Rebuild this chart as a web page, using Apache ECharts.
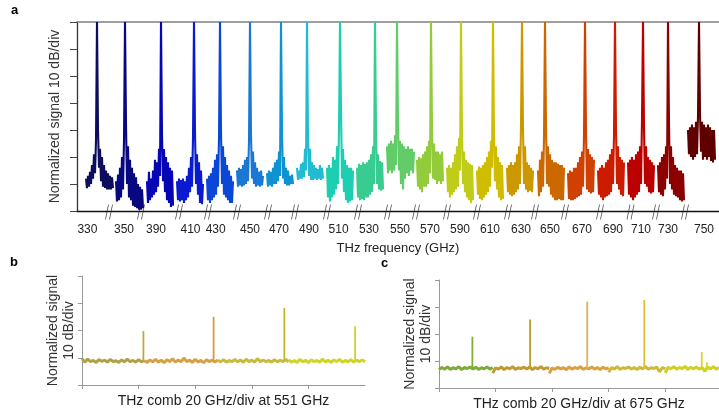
<!DOCTYPE html>
<html>
<head>
<meta charset="utf-8">
<script src="https://cdn.jsdelivr.net/npm/echarts@6/dist/echarts.min.js"></script>
<style>
  html, body { margin: 0; padding: 0; background: #fff; }
  #chart { width: 719px; height: 416px; }
</style>
</head>
<body>
<div id="chart"></div>
<script>
// ---- panel a: 21 THz lines, each drawn in its own broken-axis window ----
var freqLabels = ['330', '350', '390', '410', '430', '450', '470', '490', '510', '530', '550',
                  '570', '590', '610', '630', '650', '670', '690', '710', '730', '750'];
// plot position of each tick label and of each "//" break on the broken axis
var labelPos = [10.4, 47, 79, 113.5, 138.7, 173, 202, 232, 261.6, 292, 323,
                353, 383, 413, 444, 473, 505, 536, 564, 591, 627];
var breakPos = [32, 64, 102, 131, 160, 191, 218, 250, 281, 311, 339, 370, 400, 431, 458, 488, 523, 553.5, 579, 608];
// first plot position of each window (samples are 1 unit apart)
var peakStart = [9, 39, 70, 100, 130, 160, 190, 220, 250, 280, 310, 340, 370, 400, 430, 461, 491, 521, 551, 581, 611];
var peakColors = ['#0d0d5e', '#07077f', '#0505b4', '#0a1ad0', '#0c46d6', '#1a78d4', '#0f92d2', '#22bcd2',
                  '#1ccfb2', '#38cc90', '#62cc68', '#92cc3a', '#c0cc1a', '#d0bc00', '#cc9800', '#cc6800',
                  '#d04000', '#cc1c00', '#bb0000', '#8c0000', '#5e0000'];

// signal in divisions (10 dB/div)
var t330 = [1.2, 0.85, 1.3, 0.9, 1.45, 1.0, 1.7, 1.2, 2.1, 1.4, 2.6, 7, 3.0, 1.6, 2.3, 1.1, 2.0, 0.9, 1.7, 0.85, 1.5, 0.8, 1.4, 0.8, 1.3, 0.8, 1.25, 0.85];
var t350 = [1.1, 0.35, 1.35, 0.4, 1.6, 0.5, 2.0, 0.8, 2.6, 7, 3.2, 1.0, 2.4, 0.5, 1.9, 0.4, 1.6, 0.2, 1.4, 0.15, 1.25, 0.1, 1.0, 0.05, 0.9, 0.05, 0.8, 0.1];
var t390 = [1.1, 0.3, 1.45, 0.4, 1.2, 0.5, 1.5, 0.6, 1.9, 0.7, 1.8, 0.9, 2.3, 1.3, 7, 2.8, 1.1, 2.3, 0.7, 2.0, 0.4, 1.8, 0.3, 1.6, 0.15, 1.5, 0.2];
var t410 = [1.1, 0.4, 1.2, 0.35, 1.15, 0.4, 1.2, 0.3, 1.1, 0.4, 1.3, 0.5, 1.6, 0.7, 2.0, 0.9, 2.7, 7, 2.9, 1.0, 2.1, 0.6, 1.8, 0.3, 1.5, 0.25, 1.0];
var t430 = [1.2, 0.4, 1.3, 0.3, 1.4, 0.4, 1.6, 0.5, 1.9, 0.6, 2.1, 0.9, 2.7, 7, 2.9, 1.0, 2.4, 0.6, 2.0, 0.5, 1.7, 0.4, 1.5, 0.3, 1.3, 0.3, 1.1];
var t450 = [1.5, 0.9, 1.6, 0.95, 1.55, 0.9, 1.7, 0.95, 1.9, 1.0, 2.0, 1.1, 2.6, 7, 2.8, 1.2, 2.2, 1.0, 1.8, 0.9, 1.6, 0.95, 1.45, 0.9, 1.5, 0.95, 1.3];
var t470 = [1.4, 0.9, 1.5, 0.95, 1.45, 0.9, 1.6, 1.0, 1.8, 1.0, 1.9, 1.1, 2.2, 1.3, 7, 2.9, 1.2, 2.0, 1.0, 1.6, 0.95, 1.5, 0.95, 1.3, 1.0, 1.35, 1.0];
var t490 = [1.6, 1.15, 1.5, 1.2, 1.75, 1.2, 1.8, 1.25, 2.3, 1.5, 7, 2.8, 1.3, 2.3, 1.15, 1.8, 1.15, 1.7, 1.2, 1.6, 1.15, 1.55, 1.2, 1.7, 1.15, 1.6, 1.2];
var t510 = [1.6, 0.5, 1.7, 0.35, 1.6, 0.5, 2.0, 0.6, 1.9, 0.8, 2.4, 1.0, 3.0, 7, 3.8, 1.2, 2.3, 0.7, 1.9, 0.4, 1.7, 0.3, 1.6, 0.35, 1.6, 0.4, 1.5];
var t530 = [1.6, 0.5, 1.75, 0.4, 1.7, 0.45, 1.8, 0.4, 1.75, 0.5, 1.8, 0.5, 1.9, 0.6, 2.1, 0.7, 2.4, 1.0, 7, 3.0, 1.0, 2.1, 0.8, 1.85, 0.75, 1.8, 0.8];
var t550 = [2.4, 1.4, 2.5, 1.5, 2.6, 1.4, 2.5, 1.5, 2.8, 1.7, 7, 3.3, 1.5, 2.6, 1.0, 2.5, 0.8, 2.4, 1.2, 2.3, 1.4, 2.4, 1.3, 2.3, 1.5, 2.3, 1.4, 2.2];
var t570 = [1.9, 0.9, 2.0, 0.8, 1.95, 0.7, 2.1, 0.9, 2.2, 0.9, 2.4, 1.0, 2.6, 1.4, 7, 3.1, 1.2, 2.5, 1.15, 2.2, 1.0, 2.2, 1.1, 2.1, 1.0, 2.2, 1.1];
var t590 = [1.6, 0.7, 1.7, 0.5, 1.6, 0.6, 1.8, 0.7, 2.1, 0.8, 2.4, 0.9, 2.7, 1.5, 7, 2.9, 1.0, 2.2, 0.7, 1.9, 0.5, 1.8, 0.4, 1.75, 0.3, 1.7, 0.4];
var t610 = [1.5, 0.6, 1.65, 0.45, 1.6, 0.4, 1.7, 0.5, 1.8, 0.6, 2.0, 0.7, 2.2, 0.9, 2.6, 1.6, 7, 2.8, 1.1, 2.4, 0.8, 2.0, 0.5, 1.8, 0.4, 1.7, 0.45];
var t630 = [1.6, 0.7, 1.7, 0.6, 1.8, 0.55, 1.7, 0.6, 1.8, 0.7, 2.1, 0.8, 2.4, 1.0, 3.2, 7, 3.0, 1.0, 2.4, 0.8, 1.8, 0.7, 1.7, 0.75, 1.6, 0.7, 1.5];
var t650 = [1.5, 0.55, 1.9, 0.7, 2.2, 0.9, 2.7, 7, 3.1, 1.0, 2.4, 0.9, 2.1, 0.6, 1.9, 0.5, 1.8, 0.4, 1.8, 0.4, 1.75, 0.45, 1.7, 0.4, 1.7, 0.4, 1.6];
var t670 = [1.4, 0.45, 1.5, 0.4, 1.45, 0.4, 1.6, 0.45, 1.6, 0.5, 1.8, 0.55, 2.0, 0.6, 2.2, 0.9, 2.8, 7, 2.9, 0.8, 2.3, 0.7, 2.1, 0.65, 2.0, 0.7, 1.9];
var t690 = [1.5, 0.6, 1.6, 0.5, 1.7, 0.4, 1.6, 0.5, 1.8, 0.55, 1.9, 0.6, 2.1, 0.7, 2.3, 1.0, 2.8, 7, 3.0, 1.0, 2.4, 0.8, 2.0, 0.6, 1.9, 0.55, 1.8];
var t710 = [1.8, 0.6, 1.9, 0.5, 2.0, 0.4, 1.9, 0.5, 2.1, 0.6, 2.2, 0.7, 2.4, 1.0, 3.4, 7, 3.1, 1.0, 2.4, 0.9, 2.0, 0.7, 1.9, 0.65, 1.8, 0.7, 1.7];
var t730 = [1.7, 0.7, 1.8, 0.6, 2.0, 0.55, 2.1, 0.8, 2.4, 1.2, 7, 3.2, 1.0, 2.4, 0.8, 2.0, 0.6, 1.7, 0.55, 1.6, 0.5, 1.5, 0.4, 1.5, 0.35, 1.4, 0.4];
var t750 = [3.0, 2.1, 3.1, 2.0, 3.2, 1.9, 3.1, 2.0, 3.3, 2.1, 3.5, 7, 3.6, 2.2, 3.3, 1.9, 3.2, 2.0, 3.1, 1.9, 3.2, 2.0, 3.1, 1.85, 3.0, 1.8, 3.0, 1.9];
var traces = [t330, t350, t390, t410, t430, t450, t470, t490, t510, t530, t550,
              t570, t590, t610, t630, t650, t670, t690, t710, t730, t750];

// ---- panel b: comb at 551 GHz (x in GHz offset, 1 GHz per sample) ----
var bStarts = [0, 22, 48, 73];
var bColors = ['#b0a244', '#d8a046', '#c8ba3c', '#d2d228'];
var bNoise1 = [0.97, 0.84, 0.95, 0.86, 0.90, 0.83, 0.93, 0.87, 0.91, 0.84, 0.94, 0.86, 0.89, 0.83, 0.92, 0.85, 0.95, 0.86, 0.90, 0.84, 0.93, 0.85, 0.90];
var bNoise2 = [0.90, 0.83, 0.92, 0.85, 0.94, 0.84, 0.91, 0.82, 0.93, 0.86, 0.96, 0.84, 0.92, 0.85, 0.99, 0.86, 0.91, 0.83, 0.94, 0.85, 0.90, 0.82, 0.93, 0.86, 0.91, 0.84, 0.92];
var bNoise3 = [0.91, 0.85, 0.93, 0.84, 0.90, 0.86, 0.94, 0.85, 0.92, 0.83, 0.95, 0.86, 0.91, 0.84, 0.97, 0.85, 0.92, 0.86, 0.90, 0.84, 0.93, 0.85, 0.91, 0.86, 0.94, 0.85];
var bNoise4 = [0.92, 0.84, 0.90, 0.83, 0.94, 0.85, 0.91, 0.82, 0.93, 0.86, 0.90, 0.84, 0.95, 0.85, 0.91, 0.83, 0.92, 0.86, 0.94, 0.84, 0.90, 0.85, 0.93, 0.84, 0.91, 0.86, 0.92, 0.85];
var bNoise = [bNoise1, bNoise2, bNoise3, bNoise4];
var bSpikePos = [21.7, 46.5, 71.5, 96.5];
var bSpikeTop = [1.98, 2.5, 2.83, 2.16];
var bSpikeColors = ['#c4a446', '#d89a40', '#c8b42c', '#d2d02a'];

// ---- panel c: comb at 675 GHz ----
var cStarts = [0, 19, 39, 60, 80];
var cColors = ['#7fa83a', '#c09a30', '#d9a040', '#cfb838', '#d0d020'];
var cNoise1 = [0.68, 0.76, 0.70, 0.78, 0.69, 0.75, 0.71, 0.79, 0.68, 0.76, 0.72, 0.78, 0.70, 0.77, 0.69, 0.75, 0.71, 0.78, 0.70, 0.76];
var cNoise2 = [0.55, 0.75, 0.70, 0.78, 0.68, 0.76, 0.71, 0.79, 0.69, 0.75, 0.72, 0.77, 0.70, 0.78, 0.68, 0.76, 0.71, 0.79, 0.70, 0.75, 0.72];
var cNoise3 = [0.54, 0.74, 0.69, 0.77, 0.71, 0.75, 0.68, 0.78, 0.70, 0.76, 0.72, 0.79, 0.69, 0.75, 0.71, 0.78, 0.70, 0.76, 0.68, 0.77, 0.71, 0.75];
var cNoise4 = [0.58, 0.76, 0.70, 0.79, 0.69, 0.75, 0.72, 0.78, 0.70, 0.76, 0.68, 0.77, 0.71, 0.79, 0.70, 0.75, 0.72, 0.78, 0.60, 0.76, 0.71];
var cNoise5 = [0.56, 0.77, 0.71, 0.79, 0.70, 0.76, 0.72, 0.80, 0.69, 0.77, 0.71, 0.78, 0.70, 0.76, 0.62, 0.78, 0.71, 0.79, 0.70, 0.76];
var cNoise = [cNoise1, cNoise2, cNoise3, cNoise4, cNoise5];
var cSpikePos = [11.8, 32.2, 52.4, 72.6, 92.9, 94.7];
var cSpikeTop = [1.9, 2.54, 3.2, 3.26, 1.34, 0.95];
var cSpikeColors = ['#80b030', '#b8a028', '#e0b060', '#d8c030', '#d6d630', '#d6d630'];

var FONT = 'Liberation Sans, Arial, sans-serif';
var chart = echarts.init(document.getElementById('chart'), null, { renderer: 'canvas' });

var series = [];
traces.forEach(function (vals, i) {
  series.push({
    type: 'line', xAxisIndex: 0, yAxisIndex: 0, symbol: 'none', silent: true,
    lineStyle: { color: peakColors[i], width: 2.1 },
    data: vals.map(function (v, k) { return [peakStart[i] + k, v]; })
  });
});
// the "//" break marks on the bottom axis
series.push({
  type: 'scatter', xAxisIndex: 0, yAxisIndex: 0, clip: false, silent: true,
  symbol: 'path://M3,0L0,15M7,0L4,15', symbolSize: [7, 15], symbolOffset: [0, 1],
  itemStyle: { color: 'rgba(0,0,0,0)', borderColor: '#222', borderWidth: 1.1 },
  data: breakPos.map(function (p) { return [p, 0]; })
});

function combSeries(xIdx, yIdx, starts, noise, colors, spikePos, spikeTop, spikeColors, floor) {
  noise.forEach(function (vals, i) {
    series.push({
      type: 'line', xAxisIndex: xIdx, yAxisIndex: yIdx, symbol: 'none', silent: true,
      lineStyle: { color: colors[i], width: 3 },
      data: vals.map(function (v, k) { return [starts[i] + k, v]; })
    });
  });
  spikePos.forEach(function (p, i) {
    series.push({
      type: 'line', xAxisIndex: xIdx, yAxisIndex: yIdx, symbol: 'none', silent: true,
      lineStyle: { color: spikeColors[i], width: 1.8 },
      data: [[p, floor], [p, spikeTop[i]]]
    });
  });
}
combSeries(2, 1, bStarts, bNoise, bColors, bSpikePos, bSpikeTop, bSpikeColors, 0.86);
combSeries(3, 2, cStarts, cNoise, cColors, cSpikePos, cSpikeTop, cSpikeColors, 0.72);

var smallY = function (grid) {
  return {
    gridIndex: grid, type: 'value', min: 0, max: 4, interval: 1,
    axisLine: { show: true, lineStyle: { color: '#999', width: 1 } },
    axisTick: { show: true, length: 4, lineStyle: { color: '#999' } },
    axisLabel: { show: false }, splitLine: { show: false },
    name: 'Normalized signal\n10 dB/div', nameLocation: 'middle', nameRotate: 90, nameGap: 5,
    nameTextStyle: { fontSize: 14, lineHeight: 16, color: '#333', fontFamily: FONT }
  };
};
var smallX = function (grid, max, name) {
  return {
    gridIndex: grid, type: 'value', min: 0, max: max,
    axisLine: { show: true, onZero: false, lineStyle: { color: '#999', width: 1 } },
    axisTick: { show: true, length: 4, customValues: [0, 20, 40, 60, 80], lineStyle: { color: '#999' } },
    axisLabel: { show: false }, splitLine: { show: false },
    name: name, nameLocation: 'middle', nameGap: 9,
    nameTextStyle: { fontSize: 14, color: '#222', fontFamily: FONT }
  };
};

var option = {
  animation: false,
  backgroundColor: '#fff',
  textStyle: { fontFamily: FONT },
  title: [
    { text: 'a', left: 11, top: 4, padding: 0, textStyle: { fontSize: 13, fontWeight: 'bold', color: '#000', fontFamily: FONT } },
    { text: 'b', left: 10, top: 256, padding: 0, textStyle: { fontSize: 13, fontWeight: 'bold', color: '#000', fontFamily: FONT } },
    { text: 'c', left: 381, top: 257, padding: 0, textStyle: { fontSize: 13, fontWeight: 'bold', color: '#000', fontFamily: FONT } }
  ],
  grid: [
    { left: 77, right: 0, top: 22, height: 189, outerBoundsMode: 'none' },
    { left: 82, width: 283, top: 276, height: 109, outerBoundsMode: 'none' },
    { left: 439, right: 0, top: 280, height: 108, outerBoundsMode: 'none' }
  ],
  xAxis: [
    {
      gridIndex: 0, type: 'value', min: 0, max: 642, position: 'bottom',
      axisLine: { show: true, onZero: false, lineStyle: { color: '#111', width: 1.3 } },
      axisTick: { show: false }, splitLine: { show: false },
      axisLabel: {
        customValues: labelPos, margin: 13, fontSize: 12, color: '#222', fontFamily: FONT,
        formatter: function (v) { return freqLabels[labelPos.indexOf(v)]; }
      },
      name: 'THz frequency (GHz)', nameLocation: 'middle', nameGap: 31,
      nameTextStyle: { fontSize: 13, color: '#222', fontFamily: FONT }
    },
    {
      gridIndex: 0, type: 'value', min: 0, max: 642, position: 'top',
      axisLine: { show: true, onZero: false, lineStyle: { color: '#808080', width: 1.5 } },
      axisTick: { show: false }, axisLabel: { show: false }, splitLine: { show: false }
    },
    smallX(1, 100, 'THz comb 20 GHz/div at 551 GHz'),
    smallX(2, 99, 'THz comb 20 GHz/div at 675 GHz')
  ],
  yAxis: [
    {
      gridIndex: 0, type: 'value', min: 0, max: 7, interval: 1,
      axisLine: { show: true, lineStyle: { color: '#333', width: 1.3 } },
      axisTick: { show: true, length: 7, lineStyle: { color: '#444' } },
      axisLabel: { show: false }, splitLine: { show: false },
      name: 'Normalized signal 10 dB/div', nameLocation: 'middle', nameRotate: 90, nameGap: 15,
      nameTextStyle: { fontSize: 14, color: '#333', fontFamily: FONT }
    },
    smallY(1),
    smallY(2)
  ],
  series: series
};
chart.setOption(option);
</script>
</body>
</html>
